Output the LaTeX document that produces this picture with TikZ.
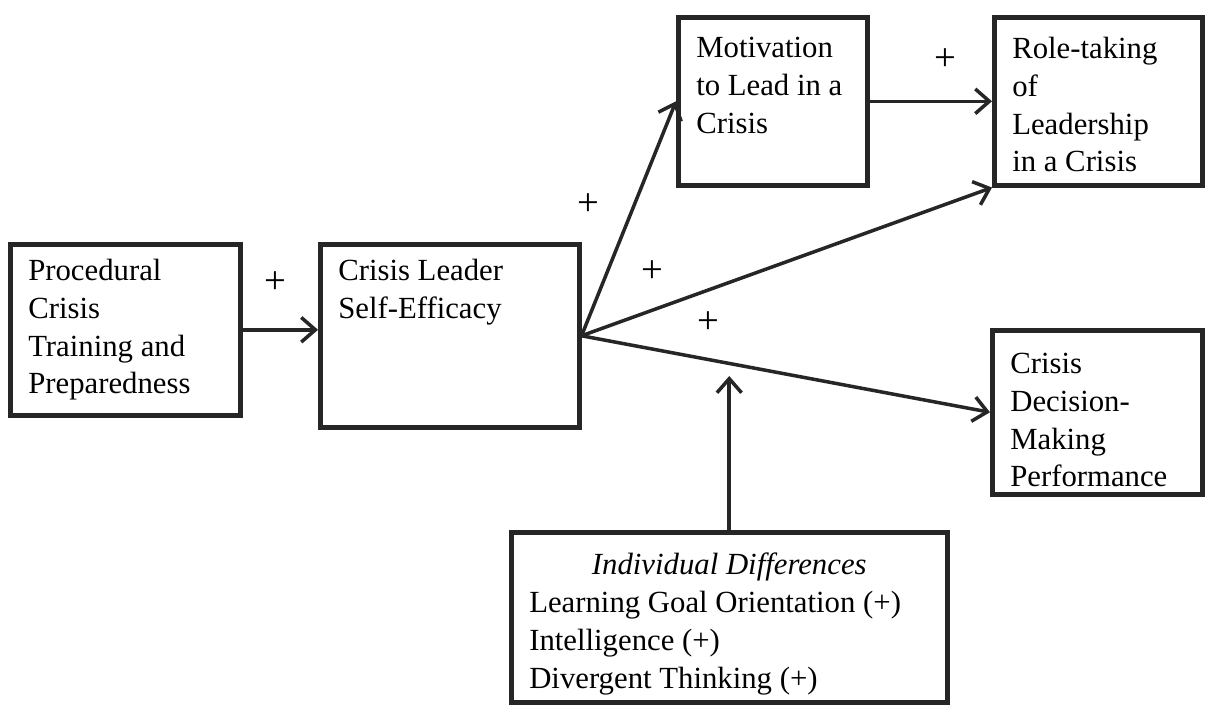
\documentclass[tikz,border=0pt]{standalone}
\usepackage{fontspec}
\setmainfont{Liberation Serif}
\usetikzlibrary{arrows.meta}

\newcommand{\cellbox}[4][0pt]{\parbox[c][#3][t]{#2}{\raggedright\vspace*{#1}#4}}

\begin{document}
\begin{tikzpicture}[x=0.02cm, y=-0.02cm,
  font=\fontsize{17.5}{21.5}\selectfont,
  box/.style={draw=black!85, line width=2.6pt, anchor=north west,
    inner xsep=0.36cm, inner ysep=0.3cm},
  link/.style={draw=black!85, line width=2pt,
    -{Straight Barb[length=8pt,width=14pt]}},
  sign/.style={font=\fontsize{22}{22}\selectfont}]
  \useasboundingbox (0,0) rectangle (1212,704);
  %% boxes
  \node[box] (proc) at (8,242)
    {\cellbox{3.88cm}{2.82cm}{Procedural\\Crisis\\Training and\\Preparedness}};
  \node[box] (clse) at (318,242)
    {\cellbox{4.46cm}{3.06cm}{Crisis Leader\\Self-Efficacy}};
  \node[box] (motiv) at (676,15)
    {\cellbox[0.1cm]{3.06cm}{2.76cm}{Motivation\\to Lead in a\\Crisis}};
  \node[box] (role) at (992,15)
    {\cellbox[0.1cm]{3.44cm}{2.76cm}{Role-taking\\of\\Leadership\\in a Crisis}};
  \node[box] (decis) at (990,328)
    {\cellbox[0.16cm]{3.48cm}{2.68cm}{Crisis\\Decision-\\Making\\Performance}};
  \node[box] (indiv) at (509,530)
    {\parbox[c][2.8cm][t]{8.0cm}{\vspace*{0.12cm}\centering\textit{Individual Differences}\par
      \raggedright Learning Goal Orientation (+)\\Intelligence (+)\\Divergent Thinking (+)}};
  %% arrows
  \coordinate (fan) at (clse.east);
  \coordinate (modtip) at (730,376);
  \draw[link] (proc.east) -- (proc.east -| clse.west);
  \draw[link] (fan) -- (motiv.west);
  \draw[link] (fan) -- (role.south west);
  \draw[link] (fan) -- (decis.west);
  \draw[link] (motiv.east) -- (role.west);
  \draw[link] (indiv.north) -- (indiv.north |- modtip);
  %% signs
  \node[sign] (s1) at (275,283) {+};
  \node[sign] (s2) at (588,205) {+};
  \node[sign] (s3) at (652,272) {+};
  \node[sign] (s4) at (708,323) {+};
  \node[sign] (s5) at (945,60) {+};
\end{tikzpicture}
\end{document}
